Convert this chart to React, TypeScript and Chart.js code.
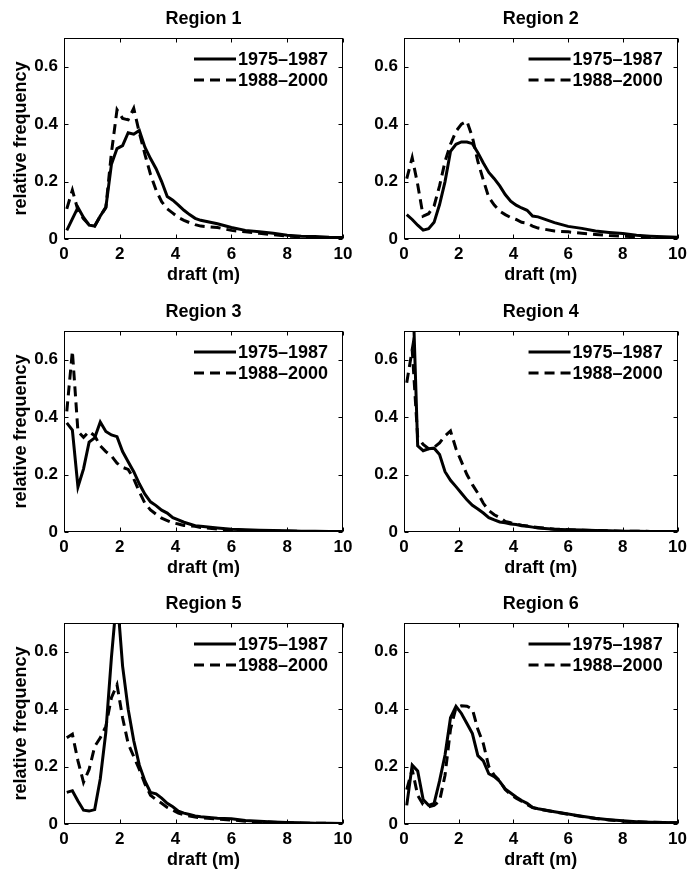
import React, { useEffect, useRef } from "react";
import { Chart, registerables } from "chart.js";

Chart.register(...registerables);

// ---------- data ----------
const draftM = [
  0.1, 0.3, 0.5, 0.7, 0.9, 1.1, 1.3, 1.5, 1.7, 1.9, 2.1, 2.3, 2.5, 2.7, 2.9,
  3.1, 3.3, 3.5, 3.7, 3.9, 4.1, 4.3, 4.5, 4.7, 4.9, 5.5, 6, 6.5, 7, 7.5, 8,
  8.5, 9, 9.5, 10,
];
const xTicks = [0, 2, 4, 6, 8, 10];
const yTicks = [0, 0.2, 0.4, 0.6];
const periodLabels = ["1975\u20131987", "1988\u20132000"];
const regionTitles = ["Region 1", "Region 2", "Region 3", "Region 4", "Region 5", "Region 6"];

const region1Early = [0.03, 0.07, 0.11, 0.075, 0.048, 0.045, 0.08, 0.11, 0.26, 0.315, 0.325, 0.37, 0.365, 0.378, 0.32, 0.28, 0.245, 0.2, 0.148, 0.135, 0.118, 0.1, 0.085, 0.072, 0.065, 0.053, 0.04, 0.03, 0.025, 0.02, 0.013, 0.01, 0.009, 0.006, 0.005];
const region1Late = [0.105, 0.17, 0.1, 0.07, 0.05, 0.045, 0.08, 0.11, 0.3, 0.45, 0.42, 0.415, 0.455, 0.37, 0.295, 0.225, 0.17, 0.13, 0.105, 0.09, 0.075, 0.065, 0.057, 0.05, 0.045, 0.04, 0.03, 0.025, 0.02, 0.015, 0.01, 0.008, 0.006, 0.005, 0.004];

const region2Early = [0.085, 0.068, 0.048, 0.031, 0.036, 0.058, 0.12, 0.2, 0.305, 0.33, 0.338, 0.338, 0.332, 0.3, 0.265, 0.232, 0.21, 0.185, 0.155, 0.132, 0.118, 0.108, 0.1, 0.08, 0.077, 0.057, 0.044, 0.037, 0.028, 0.023, 0.019, 0.013, 0.01, 0.008, 0.006];
const region2Late = [0.21, 0.283, 0.19, 0.08, 0.088, 0.115, 0.185, 0.27, 0.33, 0.375, 0.4, 0.41, 0.355, 0.27, 0.205, 0.145, 0.118, 0.097, 0.085, 0.075, 0.068, 0.058, 0.055, 0.045, 0.038, 0.028, 0.025, 0.02, 0.016, 0.012, 0.01, 0.008, 0.006, 0.005, 0.004];

const region3Early = [0.38, 0.355, 0.157, 0.22, 0.313, 0.328, 0.383, 0.35, 0.338, 0.332, 0.28, 0.245, 0.21, 0.168, 0.132, 0.105, 0.092, 0.076, 0.066, 0.05, 0.042, 0.034, 0.028, 0.022, 0.02, 0.014, 0.01, 0.008, 0.006, 0.005, 0.004, 0.003, 0.003, 0.002, 0.002];
const region3Late = [0.42, 0.63, 0.35, 0.33, 0.35, 0.335, 0.3, 0.28, 0.265, 0.24, 0.225, 0.218, 0.185, 0.14, 0.1, 0.077, 0.062, 0.048, 0.04, 0.032, 0.028, 0.023, 0.021, 0.02, 0.016, 0.01, 0.007, 0.005, 0.004, 0.003, 0.003, 0.002, 0.002, 0.002, 0.001];

const region4Early = [0.95, 0.9, 0.3, 0.283, 0.29, 0.292, 0.27, 0.21, 0.18, 0.158, 0.135, 0.112, 0.093, 0.08, 0.066, 0.05, 0.042, 0.035, 0.032, 0.028, 0.026, 0.022, 0.02, 0.017, 0.014, 0.01, 0.008, 0.007, 0.005, 0.004, 0.003, 0.003, 0.002, 0.002, 0.002];
const region4Late = [0.52, 0.635, 0.33, 0.305, 0.29, 0.295, 0.31, 0.335, 0.352, 0.29, 0.245, 0.2, 0.165, 0.135, 0.1, 0.075, 0.06, 0.05, 0.037, 0.032, 0.028, 0.024, 0.021, 0.018, 0.016, 0.01, 0.008, 0.006, 0.005, 0.004, 0.003, 0.003, 0.002, 0.002, 0.002];

const region5Early = [0.11, 0.116, 0.08, 0.048, 0.045, 0.05, 0.157, 0.32, 0.58, 0.8, 0.55, 0.4, 0.29, 0.205, 0.15, 0.11, 0.105, 0.09, 0.072, 0.06, 0.045, 0.038, 0.033, 0.028, 0.025, 0.02, 0.018, 0.012, 0.01, 0.007, 0.005, 0.004, 0.003, 0.003, 0.002];
const region5Late = [0.3, 0.313, 0.22, 0.145, 0.19, 0.27, 0.3, 0.34, 0.44, 0.485, 0.37, 0.28, 0.235, 0.19, 0.14, 0.1, 0.085, 0.072, 0.058, 0.048, 0.038, 0.032, 0.028, 0.024, 0.022, 0.017, 0.014, 0.01, 0.008, 0.006, 0.004, 0.003, 0.003, 0.002, 0.002];

const region6Early = [0.065, 0.205, 0.185, 0.085, 0.065, 0.072, 0.15, 0.24, 0.37, 0.41, 0.385, 0.35, 0.315, 0.238, 0.22, 0.175, 0.165, 0.148, 0.122, 0.108, 0.094, 0.082, 0.072, 0.058, 0.053, 0.043, 0.035, 0.027, 0.02, 0.015, 0.011, 0.008, 0.006, 0.005, 0.004];
const region6Late = [0.12, 0.19, 0.1, 0.068, 0.06, 0.065, 0.08, 0.17, 0.33, 0.405, 0.412, 0.41, 0.4, 0.33, 0.28, 0.2, 0.17, 0.15, 0.12, 0.103, 0.09, 0.079, 0.068, 0.057, 0.052, 0.042, 0.034, 0.026, 0.019, 0.014, 0.01, 0.008, 0.006, 0.005, 0.004];

const regionSeries = [
  [region1Early, region1Late],
  [region2Early, region2Late],
  [region3Early, region3Late],
  [region4Early, region4Late],
  [region5Early, region5Late],
  [region6Early, region6Late],
];

// ---------- layout ----------
const FONT_FAMILY = '"Liberation Sans", Arial, Helvetica, sans-serif';
const TEXT_SIZE = 18;
const TICK_SIZE = 17;
const LINE_H = TEXT_SIZE * 1.2;
const LINE_W = 3;
const COLS = [
  { canvasLeft: 0, canvasWidth: 372, plotLeft: 64, plotRight: 343 },
  { canvasLeft: 346, canvasWidth: 346, plotLeft: 404, plotRight: 680 },
];
const ROWS = [
  { canvasTop: 0, canvasHeight: 290, plotTop: 38, plotBottom: 239 },
  { canvasTop: 290, canvasHeight: 290, plotTop: 331, plotBottom: 532 },
  { canvasTop: 580, canvasHeight: 292, plotTop: 623, plotBottom: 824 },
];

const decorPlugin = {
  id: "decor",
  afterDraw(chart: any, _args: any, opts: any) {
    const { ctx, chartArea: a, scales } = chart;
    const xs = scales.x;
    const ys = scales.y;
    ctx.save();
    ctx.strokeStyle = "#000";
    ctx.lineWidth = 1;
    ctx.setLineDash([]);
    const L = Math.round(a.left) + 0.5;
    const R = Math.round(a.right) - 0.5;
    const T = Math.round(a.top) + 0.5;
    const B = Math.round(a.bottom) - 0.5;
    ctx.strokeRect(L, T, R - L, B - T);
    ctx.beginPath();
    for (const v of xTicks) {
      const px = Math.round(xs.getPixelForValue(v)) + 0.5;
      ctx.moveTo(px, B);
      ctx.lineTo(px, B - 4);
      ctx.moveTo(px, T);
      ctx.lineTo(px, T + 4);
    }
    for (const v of yTicks) {
      const py = Math.round(ys.getPixelForValue(v)) + 0.5;
      ctx.moveTo(L, py);
      ctx.lineTo(L + 4, py);
      ctx.moveTo(R, py);
      ctx.lineTo(R - 4, py);
    }
    ctx.stroke();

    // title
    ctx.fillStyle = "#000";
    ctx.font = `bold ${TEXT_SIZE}px ${FONT_FAMILY}`;
    ctx.textAlign = "center";
    ctx.textBaseline = "alphabetic";
    ctx.fillText(opts.title, (a.left + a.right) / 2, a.top - 14);

    // legend
    ctx.textAlign = "left";
    ctx.textBaseline = "middle";
    chart.data.datasets.forEach((ds: any, i: number) => {
      const y = a.top + 21 + i * 21;
      ctx.beginPath();
      ctx.lineWidth = ds.borderWidth;
      ctx.setLineDash(ds.borderDash || []);
      ctx.moveTo(a.right - 149, y);
      ctx.lineTo(a.right - 107, y);
      ctx.stroke();
      ctx.setLineDash([]);
      ctx.fillText(ds.label, a.right - 105, y + 1);
    });
    ctx.restore();
  },
};

function Panel({ index }: { index: number }) {
  const ref = useRef<HTMLCanvasElement>(null);
  const col = COLS[index % 2];
  const row = ROWS[Math.floor(index / 2)];
  const showYTitle = index % 2 === 0;

  useEffect(() => {
    const [early, late] = regionSeries[index];
    const padTop = row.plotTop - row.canvasTop;
    const padRight = col.canvasLeft + col.canvasWidth - col.plotRight;
    const yWidth = col.plotLeft - col.canvasLeft;
    const xHeight = row.canvasHeight - (row.plotBottom - row.canvasTop);
    const xTitlePadBottom = xHeight - 36 - LINE_H / 2;
    const textFont = { family: FONT_FAMILY, size: TEXT_SIZE, weight: "bold" as const };
    const tickFont = { family: FONT_FAMILY, size: TICK_SIZE, weight: "bold" as const };

    const chart = new Chart(ref.current as HTMLCanvasElement, {
      type: "line",
      data: {
        datasets: [
          {
            label: periodLabels[0],
            data: draftM.map((x, i) => ({ x, y: early[i] })),
            borderColor: "#000",
            borderWidth: LINE_W,
            pointRadius: 0,
            tension: 0,
            fill: false,
          },
          {
            label: periodLabels[1],
            data: draftM.map((x, i) => ({ x, y: late[i] })),
            borderColor: "#000",
            borderWidth: LINE_W,
            borderDash: [10, 6],
            pointRadius: 0,
            tension: 0,
            fill: false,
          },
        ],
      },
      options: {
        animation: false,
        responsive: true,
        maintainAspectRatio: false,
        layout: { padding: { top: padTop, right: padRight, left: 0, bottom: 0 } },
        plugins: {
          legend: { display: false },
          tooltip: { enabled: false },
          title: { display: false },
          decor: { title: regionTitles[index] },
        } as any,
        scales: {
          x: {
            type: "linear",
            min: 0,
            max: 10,
            grid: { display: false, drawTicks: false },
            border: { display: false },
            afterBuildTicks: (s: any) => {
              s.ticks = xTicks.map((v) => ({ value: v }));
            },
            afterFit: (s: any) => {
              s.height = xHeight;
            },
            ticks: {
              color: "#000",
              font: tickFont,
              padding: 5,
              maxRotation: 0,
              autoSkip: false,
              callback: (v: any) => String(v),
            },
            title: {
              display: true,
              text: "draft (m)",
              color: "#000",
              font: textFont,
              padding: { top: 0, bottom: xTitlePadBottom },
            },
          },
          y: {
            type: "linear",
            min: 0,
            max: 0.7,
            grid: { display: false, drawTicks: false },
            border: { display: false },
            afterBuildTicks: (s: any) => {
              s.ticks = yTicks.map((v) => ({ value: v }));
            },
            afterFit: (s: any) => {
              s.width = yWidth;
            },
            ticks: {
              color: "#000",
              font: tickFont,
              padding: 6,
              autoSkip: false,
              callback: (v: any) => String(v),
            },
            title: {
              display: showYTitle,
              text: "relative frequency",
              color: "#000",
              font: textFont,
              padding: { top: 10, bottom: 0 },
            },
          },
        },
      },
      plugins: [decorPlugin],
    });
    return () => chart.destroy();
  }, []);

  return (
    <div
      style={{
        position: "absolute",
        left: col.canvasLeft,
        top: row.canvasTop,
        width: col.canvasWidth,
        height: row.canvasHeight,
      }}
    >
      <canvas ref={ref} />
    </div>
  );
}

export default function App() {
  return (
    <div
      style={{
        position: "absolute",
        left: 0,
        top: 0,
        width: 692,
        height: 872,
        overflow: "hidden",
        background: "#fff",
      }}
    >
      {regionTitles.map((_, i) => (
        <Panel key={i} index={i} />
      ))}
    </div>
  );
}
